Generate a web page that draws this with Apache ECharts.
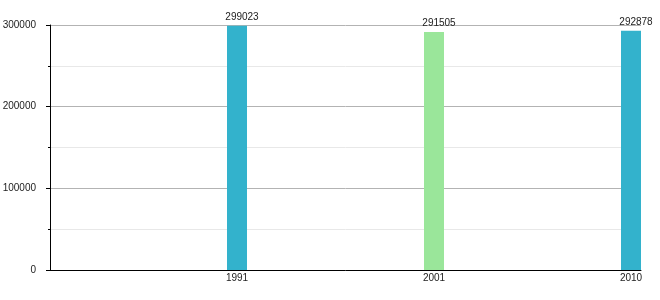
<!DOCTYPE html>
<html>
<head>
<meta charset="utf-8">
<script src="https://cdn.jsdelivr.net/npm/echarts@6/dist/echarts.min.js"></script>
<style>html,body{margin:0;padding:0;background:#fff}#c{width:660px;height:300px}</style>
</head>
<body>
<div id="c"></div>
<script>
const categories = ['1991', '2001', '2010'];
const values = [299023, 291505, 292878];
const barColors = ['#33b2cc', '#9ae69a', '#33b2cc'];
const yTicks = [0, 100000, 200000, 300000];

const positions = categories.map((c, i) => i + 1);
const chart = echarts.init(document.getElementById('c'), null, {renderer: 'canvas'});
const font = 'Liberation Sans, Arial, sans-serif';
chart.setOption({
  animation: false,
  backgroundColor: '#fff',
  grid: {left: 50, right: 19, top: 25, bottom: 30, containLabel: false, outerBoundsMode: 'none'},
  xAxis: {
    type: 'value',
    min: 10 / 197,
    max: 3 + 10 / 197,
    axisLine: {show: true, onZero: false, lineStyle: {color: '#000', width: 1}},
    axisTick: {show: false},
    splitLine: {show: false},
    axisLabel: {
      customValues: positions,
      formatter: v => categories[Math.round(v) - 1] || '',
      fontFamily: font, fontSize: 10, color: '#222', margin: 3
    }
  },
  yAxis: {
    type: 'value',
    min: yTicks[0],
    max: yTicks[yTicks.length - 1],
    interval: yTicks[1] - yTicks[0],
    axisLine: {show: true, lineStyle: {color: '#000', width: 1}},
    axisTick: {show: true, length: 4, lineStyle: {color: '#000'}},
    minorTick: {show: true, splitNumber: 2, length: 2, lineStyle: {color: '#000'}},
    splitLine: {show: true, lineStyle: {color: '#b3b3b3', width: 1}},
    minorSplitLine: {show: true, lineStyle: {color: '#e8e8e8', width: 1}},
    axisLabel: {fontFamily: font, fontSize: 10, color: '#222', margin: 14, formatter: v => String(v)}
  },
  series: [{
    type: 'bar',
    barWidth: 20,
    data: values.map((v, i) => ({value: [positions[i], v], itemStyle: {color: barColors[i]}})),
    label: {
      show: true, position: 'top', distance: 4, offset: [5, 0],
      fontFamily: font, fontSize: 10, color: '#222',
      formatter: p => String(p.value[1])
    }
  }]
});
</script>
</body>
</html>
